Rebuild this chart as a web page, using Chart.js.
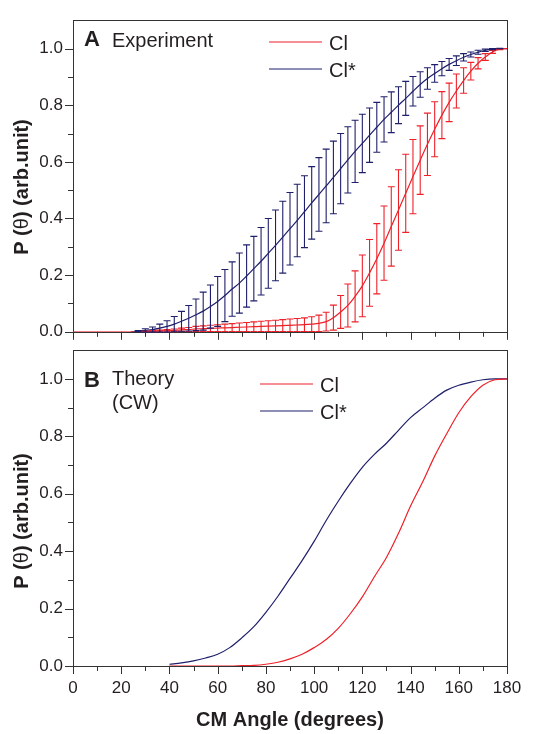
<!DOCTYPE html>
<html>
<head>
<meta charset="utf-8">
<script src="https://cdn.jsdelivr.net/npm/chart.js@4"></script>
<style>
  html, body { margin: 0; padding: 0; background: #fff; }
  #wrap { position: relative; width: 541px; height: 734px; }
  canvas { position: absolute; left: 0; }
</style>
</head>
<body>
<div id="wrap">
  <canvas id="chartA" width="541" height="352" style="top:0px"></canvas>
  <canvas id="chartB" width="541" height="404" style="top:330px"></canvas>
</div>
<script>
// --- Panel A: experiment, 3 degree steps ---
const expAngles = [0, 3, 6, 9, 12, 15, 18, 21, 24, 27,
  30, 33, 36, 39, 42, 45, 48, 51, 54, 57,
  60, 63, 66, 69, 72, 75, 78, 81, 84, 87,
  90, 93, 96, 99, 102, 105, 108, 111, 114, 117,
  120, 123, 126, 129, 132, 135, 138, 141, 144, 147,
  150, 153, 156, 159, 162, 165, 168, 171, 174, 177, 180];

const clExp = [0, 0, 0, 0, 0, 0, 0, 0, 0, 0,
  0.001, 0.002, 0.003, 0.004, 0.005, 0.007, 0.008, 0.010, 0.011, 0.012,
  0.013, 0.014, 0.015, 0.016, 0.017, 0.018, 0.019, 0.020, 0.021, 0.022,
  0.023, 0.024, 0.025, 0.027, 0.030, 0.036, 0.050, 0.070, 0.093, 0.125,
  0.162, 0.208, 0.258, 0.313, 0.372, 0.430, 0.489, 0.548, 0.606, 0.662,
  0.715, 0.765, 0.810, 0.850, 0.887, 0.920, 0.948, 0.970, 0.988, 0.998, 1.000];
const clExpErr = [0, 0, 0, 0, 0, 0, 0, 0, 0, 0,
  0.001, 0.002, 0.003, 0.004, 0.005, 0.006, 0.007, 0.009, 0.010, 0.011,
  0.012, 0.013, 0.014, 0.015, 0.016, 0.017, 0.018, 0.019, 0.020, 0.021,
  0.022, 0.023, 0.024, 0.026, 0.029, 0.033, 0.044, 0.058, 0.076, 0.090,
  0.109, 0.118, 0.124, 0.131, 0.140, 0.142, 0.138, 0.131, 0.121, 0.110,
  0.097, 0.083, 0.068, 0.060, 0.045, 0.031, 0.020, 0.012, 0.005, 0.002, 0];

const clStarAngles = expAngles.slice(8);
const clStarExp = [0.000, 0.002, 0.005, 0.008, 0.013, 0.019, 0.027, 0.037, 0.048, 0.060,
  0.073, 0.089, 0.107, 0.128, 0.151, 0.172, 0.197, 0.223, 0.249, 0.277,
  0.305, 0.334, 0.364, 0.393, 0.424, 0.455, 0.485, 0.515, 0.545, 0.576,
  0.607, 0.637, 0.665, 0.694, 0.722, 0.750, 0.775, 0.800, 0.824, 0.849,
  0.873, 0.894, 0.912, 0.929, 0.944, 0.957, 0.969, 0.979, 0.987, 0.994,
  0.998, 1.000, 1.000];
const clStarExpErr = [0, 0.002, 0.006, 0.009, 0.014, 0.020, 0.027, 0.035, 0.045, 0.056,
  0.067, 0.076, 0.088, 0.092, 0.096, 0.106, 0.110, 0.114, 0.119, 0.123,
  0.125, 0.127, 0.128, 0.128, 0.127, 0.128, 0.130, 0.130, 0.128, 0.124,
  0.117, 0.110, 0.103, 0.096, 0.088, 0.080, 0.072, 0.065, 0.060, 0.052,
  0.045, 0.038, 0.031, 0.025, 0.021, 0.017, 0.013, 0.009, 0.007, 0.004,
  0.002, 0.001, 0];

// --- Panel B: theory (CW) ---
const theoryAngles = [40, 45, 50, 55, 60, 65, 70, 75, 80, 85, 90, 95, 100, 105, 110,
  115, 120, 125, 130, 135, 140, 145, 150, 155, 160, 165, 170, 175, 180];
const clTheory = [0, 0, 0, 0, 0, 0, 0.001, 0.002, 0.006, 0.013, 0.025, 0.041, 0.064, 0.092, 0.131,
  0.182, 0.241, 0.311, 0.378, 0.462, 0.557, 0.641, 0.731, 0.809, 0.882, 0.938, 0.978, 0.997, 1.0];
const clStarTheory = [0.006, 0.011, 0.018, 0.028, 0.041, 0.064, 0.098, 0.137, 0.187, 0.243, 0.305, 0.367, 0.434, 0.507, 0.574,
  0.636, 0.692, 0.737, 0.776, 0.821, 0.865, 0.899, 0.933, 0.961, 0.978, 0.989, 0.997, 1.0, 1.0];

const RED = '#ee2129';
const BLUE = '#1f1f6b';
const FONT = "'Liberation Sans', Arial, Helvetica, sans-serif";
Chart.defaults.font.family = FONT;

const pts = (xs, ys) => xs.map((x, i) => ({ x: x, y: ys[i] }));

// vertical error bars with caps
const errorBars = {
  id: 'errorBars',
  afterDatasetsDraw(chart) {
    const { ctx, chartArea: a, scales: { x, y } } = chart;
    ctx.save();
    ctx.beginPath();
    ctx.rect(a.left, a.top, a.right - a.left, a.bottom - a.top + 1);
    ctx.clip();
    chart.data.datasets.forEach(ds => {
      if (!ds.errors) return;
      ctx.strokeStyle = ds.borderColor;
      ctx.lineWidth = 1.1;
      ds.data.forEach((p, i) => {
        const e = ds.errors[i];
        if (!e) return;
        const px = x.getPixelForValue(p.x);
        const top = y.getPixelForValue(p.y + e);
        const bot = y.getPixelForValue(p.y - e);
        ctx.beginPath();
        ctx.moveTo(px, top); ctx.lineTo(px, bot);
        ctx.moveTo(px - 3.5, top); ctx.lineTo(px + 3.5, top);
        ctx.moveTo(px - 3.5, bot); ctx.lineTo(px + 3.5, bot);
        ctx.stroke();
      });
    });
    ctx.restore();
  }
};

// frame, major and minor tick marks (drawn under the curves)
const frameTicks = {
  id: 'frameTicks',
  beforeDatasetsDraw(chart) {
    const { ctx, chartArea: a, scales: { x, y } } = chart;
    ctx.save();
    ctx.strokeStyle = '#333';
    ctx.lineWidth = 1;
    ctx.strokeRect(Math.round(a.left) + 0.5, Math.round(a.top) + 0.5,
      Math.round(a.right - a.left), Math.round(a.bottom - a.top));
    ctx.beginPath();
    for (let v = 0; v <= 180; v += 10) {
      const px = Math.round(x.getPixelForValue(v)) + 0.5;
      ctx.moveTo(px, a.bottom);
      ctx.lineTo(px, a.bottom + (v % 20 === 0 ? 8 : 5));
    }
    for (let i = 0; i <= 10; i++) {
      const py = Math.round(y.getPixelForValue(i / 10)) + 0.5;
      ctx.moveTo(a.left - (i % 2 === 0 ? 8 : 5), py);
      ctx.lineTo(a.left, py);
    }
    ctx.stroke();
    ctx.restore();
  }
};

// panel letter, caption, legend and axis titles
function panelText(cfg) {
  return {
    id: 'panelText',
    afterDraw(chart) {
      const ctx = chart.ctx;
      ctx.save();
      ctx.fillStyle = '#231f20';
      ctx.textBaseline = 'alphabetic';
      ctx.font = 'bold 22px ' + FONT;
      ctx.fillText(cfg.letter, 84, cfg.letterY);
      ctx.font = '20px ' + FONT;
      cfg.caption.forEach((t, i) => ctx.fillText(t, 112, cfg.captionY + i * 24));
      cfg.legend.forEach((l, i) => {
        const ly = cfg.legendY + i * 27;
        ctx.strokeStyle = l.color;
        ctx.lineWidth = 1.2;
        ctx.beginPath();
        ctx.moveTo(cfg.legendX, ly); ctx.lineTo(cfg.legendX + 53, ly);
        ctx.stroke();
        ctx.fillText(l.text, cfg.legendX + 60, ly + 8);
      });
      // y axis title, rotated
      ctx.translate(22, cfg.yTitleY);
      ctx.rotate(-Math.PI / 2);
      const parts = [['bold 20px ', 'P ('], ['20px ', '\u03B8'], ['bold 20px ', ') (arb.unit)']];
      let w = 0;
      parts.forEach(p => { ctx.font = p[0] + FONT; w += ctx.measureText(p[1]).width; });
      let cx = -w / 2;
      ctx.textBaseline = 'middle';
      parts.forEach(p => { ctx.font = p[0] + FONT; ctx.fillText(p[1], cx, 0); cx += ctx.measureText(p[1]).width; });
      ctx.setTransform(1, 0, 0, 1, 0, 0);
      if (cfg.xTitle) {
        ctx.font = 'bold 20px ' + FONT;
        ctx.textAlign = 'center';
        ctx.textBaseline = 'alphabetic';
        ctx.fillText(cfg.xTitle, 290, cfg.xTitleY);
      }
      ctx.restore();
    }
  };
}

function yAxis() {
  return {
    min: 0, max: 1.1,
    grid: { display: false, drawTicks: false },
    border: { display: false },
    ticks: { stepSize: 0.2, includeBounds: false, padding: 10, color: '#231f20',
      font: { size: 17 }, callback: v => v.toFixed(1) },
    afterFit: s => { s.width = 73; }
  };
}

function lineSet(label, data, color, errors) {
  return { label: label, data: data, errors: errors, borderColor: color, backgroundColor: color,
    borderWidth: 1.2, pointRadius: 0, fill: false, cubicInterpolationMode: 'monotone' };
}

new Chart(document.getElementById('chartA'), {
  type: 'line',
  data: {
    datasets: [
      lineSet('Cl', pts(expAngles, clExp), RED, clExpErr),
      lineSet('Cl*', pts(clStarAngles, clStarExp), BLUE, clStarExpErr)
    ]
  },
  options: {
    responsive: false, animation: false, events: [],
    layout: { padding: { left: 0, right: 34, top: 12, bottom: 0 } },
    plugins: { legend: { display: false }, tooltip: { enabled: false } },
    scales: {
      x: { type: 'linear', min: 0, max: 180,
        grid: { display: false, drawTicks: false }, border: { display: false },
        ticks: { display: false },
        afterFit: s => { s.height = 13; } },
      y: yAxis()
    }
  },
  plugins: [frameTicks, errorBars, panelText({
    letter: 'A', letterY: 46, caption: ['Experiment'], captionY: 47,
    legendX: 269, legendY: 42,
    legend: [{ text: 'Cl', color: RED }, { text: 'Cl*', color: BLUE }],
    yTitleY: 187
  })]
});

new Chart(document.getElementById('chartB'), {
  type: 'line',
  data: {
    datasets: [
      lineSet('Cl', pts(theoryAngles, clTheory), RED),
      lineSet('Cl*', pts(theoryAngles, clStarTheory), BLUE)
    ]
  },
  options: {
    responsive: false, animation: false, events: [],
    layout: { padding: { left: 0, right: 34, top: 9, bottom: 0 } },
    plugins: { legend: { display: false }, tooltip: { enabled: false } },
    scales: {
      x: { type: 'linear', min: 0, max: 180,
        grid: { display: false, drawTicks: false }, border: { display: false },
        ticks: { stepSize: 20, padding: 12, color: '#231f20', font: { size: 17 }, maxRotation: 0 },
        afterFit: s => { s.height = 68; } },
      y: yAxis()
    }
  },
  plugins: [frameTicks, panelText({
    letter: 'B', letterY: 57, caption: ['Theory', '(CW)'], captionY: 55,
    legendX: 260, legendY: 54,
    legend: [{ text: 'Cl', color: RED }, { text: 'Cl*', color: BLUE }],
    yTitleY: 191, xTitle: 'CM Angle (degrees)', xTitleY: 396
  })]
});
</script>
</body>
</html>
